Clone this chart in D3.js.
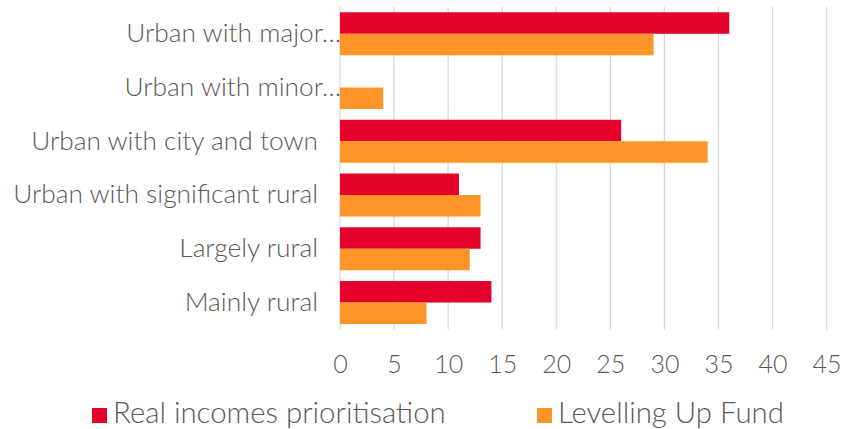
<!DOCTYPE html>
<html><head><meta charset="utf-8">
<script src="https://cdn.jsdelivr.net/npm/d3@7"></script>
<style>body{margin:0;background:#fff}svg{display:block}text{font-family:Lato,"Open Sans",sans-serif;fill:#595959;font-weight:300}</style>
</head><body><svg id="c" width="847" height="429"></svg>
<script>
const categories = ["Urban with major…","Urban with minor…","Urban with city and town","Urban with significant rural","Largely rural","Mainly rural"];
const truncated = [true,true,false,false,false,false];
const seriesNames = ["Real incomes prioritisation","Levelling Up Fund"];
const realIncomes = [36,0,26,11,13,14];
const levellingUp = [29,4,34,13,12,8];
const xTicks = [0,5,10,15,20,25,30,35,40,45];
const colors = ["#E4002B","#FF9429"];

const svg = d3.select("#c");
const x = d3.scaleLinear().domain([0,45]).range([340,826.6]);
const y = d3.scaleBand().domain(categories).range([6.9,329.4]).paddingInner(0.2).paddingOuter(0.1);
const sub = d3.scaleBand().domain(seriesNames).range([0,y.bandwidth()]);

function fitSize(str, target){
  const probe = svg.append("text").attr("font-size",20).text(str);
  const w = probe.node().getComputedTextLength();
  probe.remove();
  return 20*target/w;
}
const fsCat = fitSize("Urban with significant rural",305);
const fsTick = 25;
const fsLeg = fitSize("Real incomes prioritisation",333);

// gridlines
svg.append("g").selectAll("line").data(xTicks).join("line")
  .attr("x1",d=>x(d)).attr("x2",d=>x(d)).attr("y1",7).attr("y2",329.5)
  .attr("stroke","#d9d9d9").attr("stroke-width",1.3);

const series = [realIncomes, levellingUp];
series.forEach((vals,si)=>{
  svg.append("g").selectAll("rect").data(vals).join("rect")
    .attr("x",x(0)).attr("y",(d,i)=>y(categories[i])+sub(seriesNames[si]))
    .attr("width",d=>x(d)-x(0)).attr("height",sub.bandwidth())
    .attr("fill",colors[si]);
});

// x axis labels
const xAxis = d3.axisBottom(x).tickValues(xTicks).tickSize(0).tickPadding(0);
const gx = svg.append("g").attr("transform","translate(0,354)").call(xAxis)
  .attr("font-size",null).attr("font-family",null);
gx.select(".domain").remove();
gx.selectAll("text").attr("fill","#595959").attr("dy",null).attr("y",19)
  .style("font-size",fsTick+"px").style("font-family","Lato,'Open Sans',sans-serif").style("font-weight",300);

// category labels
svg.append("g").selectAll("text").data(categories).join("text")
  .attr("x",(d,i)=>truncated[i]?341:318)
  .attr("y",d=>y(d)+y.bandwidth()/2+8.3)
  .attr("text-anchor","end").attr("font-size",fsCat).text(d=>d);

// legend
const legX = [92,537];
seriesNames.forEach((n,i)=>{
  svg.append("rect").attr("x",legX[i]).attr("y",408).attr("width",15).attr("height",15).attr("fill",colors[i]);
  svg.append("text").attr("x",legX[i]+21).attr("y",423).attr("font-size",fsLeg).text(n);
});
</script></body></html>
